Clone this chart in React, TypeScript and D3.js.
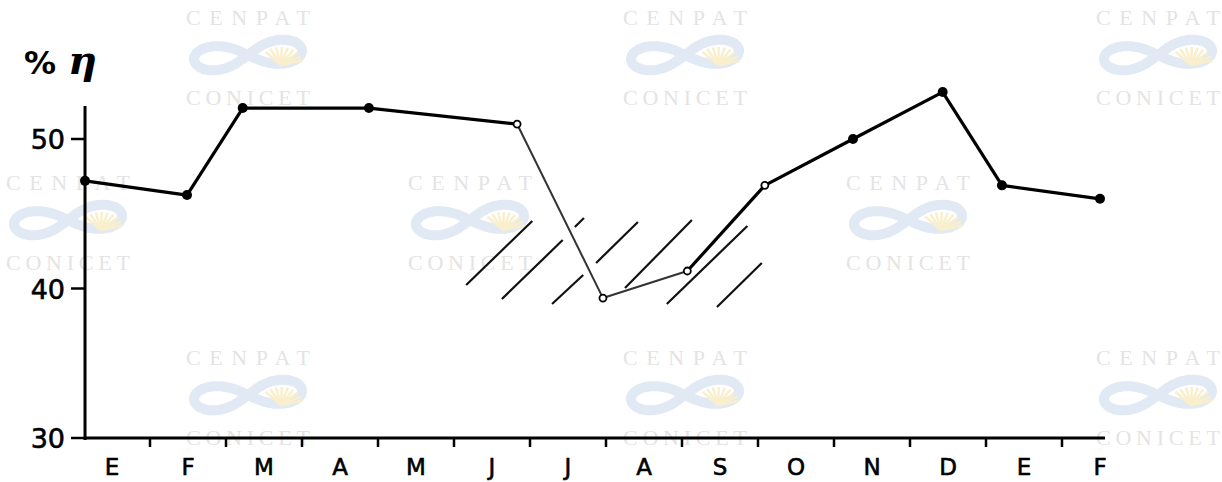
import React from "react";
import * as d3 from "d3";

const months = ["E", "F", "M", "A", "M", "J", "J", "A", "S", "O", "N", "D", "E", "F"];
// sample positions in month units (0 = start of first January)
const sampleT = [0.145, 1.487, 2.22, 3.88, 5.83, 6.96, 8.07, 9.09, 10.25, 11.43, 12.21, 13.5];
const sampleV = [47.2, 46.25, 52.07, 52.07, 51.0, 39.36, 41.17, 46.9, 50.0, 53.14, 46.9, 46.0];
const hollow = [false, false, false, false, true, true, true, true, false, false, false, false];
const yTicks = [30, 40, 50];
// hatch segments [t1, v1, t2, v2]
const hatchT1 = [5.16, 5.63, 6.29, 6.59, 6.87, 7.25, 7.80, 8.46];
const hatchV1 = [40.23, 39.30, 38.96, 44.11, 41.71, 40.03, 38.96, 38.76];
const hatchT2 = [6.03, 6.43, 6.70, 6.71, 7.42, 8.13, 8.86, 9.05];
const hatchV2 = [44.52, 43.24, 40.90, 44.72, 44.45, 44.58, 44.18, 41.71];
// watermark centres
const wmX = [248, 685, 1158, 470, 908, 68, 248, 685, 1158];
const wmY = [17, 17, 17, 182, 182, 182, 357, 357, 357];

const W = 1222, H = 482;

function Watermark({ cx, cy }: { cx: number; cy: number }) {
  const ly = cy + 38;
  const lem = d3.range(0, Math.PI * 2 + 0.01, 0.05).map((a) => {
    const s = Math.sin(a), c = Math.cos(a);
    const den = 1 + s * s;
    return [cx + (54 * c) / den, ly + (34 * s * c) / den - 4 * c] as [number, number];
  });
  const lemPath = d3.line().curve(d3.curveCatmullRomClosed)(lem) as string;
  const rays = d3.range(0, 9).map((k) => {
    const a = Math.PI * (0.05 + (k * 0.7) / 8);
    return [cx + 33 + 22 * Math.cos(a), ly + 8 - 16 * Math.sin(a)];
  });
  return (
    <g>
      <text x={cx} y={cy + 8} textAnchor="middle" fontFamily="Liberation Serif" fontSize={22} textLength={124} lengthAdjust="spacing" fill="#e4e4e4">CENPAT</text>
      <path d={lemPath} fill="none" stroke="#e1e9f4" strokeWidth={10} strokeLinecap="round" />
      {rays.map((r, k) => (
        <line key={k} x1={cx + 33} y1={ly + 10} x2={r[0]} y2={r[1]} stroke="#f9efcc" strokeWidth={2.5} />
      ))}
      <text x={cx} y={cy + 88} textAnchor="middle" fontFamily="Liberation Serif" fontSize={22} textLength={124} lengthAdjust="spacing" fill="#e4e4e4">CONICET</text>
    </g>
  );
}

export default function App() {
  const x = d3.scaleLinear().domain([0, 14]).range([74, 1138]);
  const y = d3.scaleLinear().domain([30, 50]).range([438, 139]);
  const axisX = x(0.145);
  const pts = sampleT.map((t, i) => [x(t), y(sampleV[i])] as [number, number]);
  const line = d3.line<[number, number]>();
  const segs = pts.slice(1).map((p, i) => {
    const thin = i >= 4 && i <= 5; // J->A, A->S
    return { d: line([pts[i], p]) as string, thin };
  });
  const tickTs = d3.range(1, 14);

  return (
    <svg width={W} height={H} style={{ position: "fixed", left: 0, top: 0, background: "#fff" }}>
      <rect width={W} height={H} fill="#fff" />
      {wmX.map((cx, i) => (
        <Watermark key={i} cx={cx} cy={wmY[i]} />
      ))}
      {/* hatching */}
      {hatchT1.map((t, i) => (
        <line key={i} x1={x(t)} y1={y(hatchV1[i])} x2={x(hatchT2[i])} y2={y(hatchV2[i])} stroke="#111" strokeWidth={2.2} />
      ))}
      {/* axes */}
      <line x1={axisX} y1={106} x2={axisX} y2={y(30) + 2} stroke="#000" strokeWidth={3} />
      <line x1={axisX} y1={y(30)} x2={1105} y2={y(30)} stroke="#000" strokeWidth={3} />
      {yTicks.map((v) => (
        <g key={v}>
          <line x1={axisX - 14} y1={y(v)} x2={axisX} y2={y(v)} stroke="#000" strokeWidth={2.5} />
          <text x={axisX - 20} y={y(v) + 10} textAnchor="end" fontFamily="DejaVu Sans" fontSize={27} stroke="#000" strokeWidth={0.6} fill="#000">{v}</text>
        </g>
      ))}
      {tickTs.map((t) => (
        <line key={t} x1={x(t)} y1={y(30)} x2={x(t)} y2={y(30) + 9} stroke="#000" strokeWidth={2.5} />
      ))}
      {months.map((m, i) => (
        <text key={i} x={x(i + 0.5)} y={475} textAnchor="middle" fontFamily="DejaVu Sans" fontSize={23} stroke="#000" strokeWidth={0.6} fill="#000">{m}</text>
      ))}
      {/* title */}
      <text x={24} y={74} fontFamily="DejaVu Sans" fontWeight="bold" fontSize={32} fill="#000">%</text>
      <text x={68} y={74} fontFamily="DejaVu Serif" fontWeight="bold" fontStyle="italic" fontSize={40} fill="#000">η</text>
      {/* data line */}
      {segs.map((s, i) => (
        <path key={i} d={s.d} fill="none" stroke={s.thin ? "#333" : "#000"} strokeWidth={s.thin ? 2 : 3.2} />
      ))}
      {pts.map((p, i) =>
        hollow[i] ? (
          <circle key={i} cx={p[0]} cy={p[1]} r={3.5} fill="#fff" stroke="#000" strokeWidth={1.8} />
        ) : (
          <circle key={i} cx={p[0]} cy={p[1]} r={5} fill="#000" />
        )
      )}
    </svg>
  );
}
